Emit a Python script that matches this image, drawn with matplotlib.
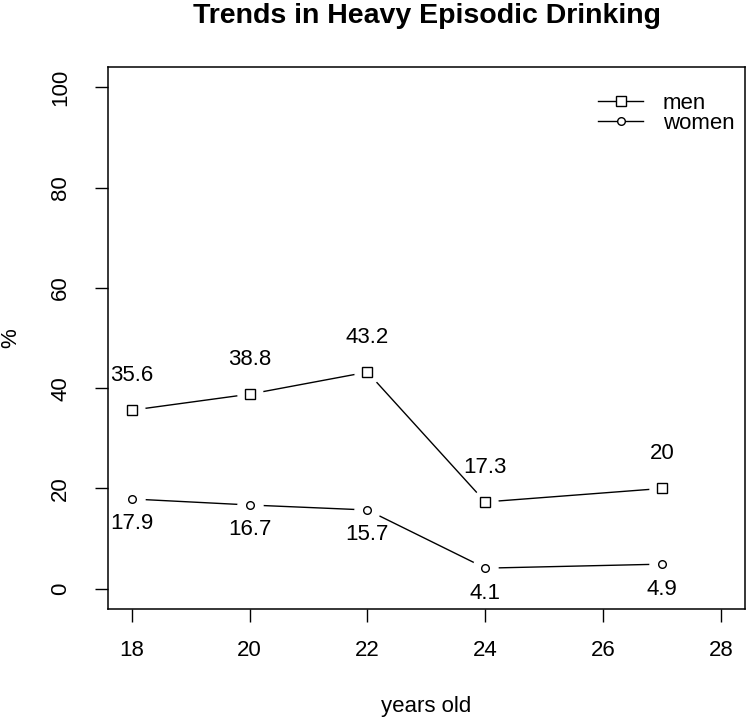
import matplotlib.pyplot as plt

plt.switch_backend("Agg")
plt.rcParams["font.family"] = ["Liberation Sans", "DejaVu Sans"]

# Data
ages = [18, 20, 22, 24, 27]
men = [35.6, 38.8, 43.2, 17.3, 20]
women = [17.9, 16.7, 15.7, 4.1, 4.9]
x_ticks = [18, 20, 22, 24, 26, 28]
y_ticks = [0, 20, 40, 60, 80, 100]

FS = 16

fig = plt.figure(figsize=(7.5, 7.23), dpi=100)
ax = fig.add_axes([0.144, 0.158, 0.849, 0.749])


def draw_series(values, marker, size, label):
    # R type="b": line with gaps around each point
    ax.plot(ages, values, color="black", lw=1.0, zorder=2)
    ax.plot(ages, values, linestyle="none", marker="o", markersize=18,
            markerfacecolor="white", markeredgecolor="white", zorder=3)
    ax.plot(ages, values, linestyle="none", marker=marker, markersize=size,
            markerfacecolor="white", markeredgecolor="black",
            markeredgewidth=1.0, zorder=4)
    # legend proxy
    ax.plot([], [], color="black", lw=1.0, marker=marker, markersize=size,
            markerfacecolor="white", markeredgecolor="black", label=label)


draw_series(men, "s", 7, "men")
draw_series(women, "o", 5.5, "women")

# value labels: men above, women below
for x, y in zip(ages, men):
    ax.annotate(f"{y:g}", (x, y), xytext=(0, 25), textcoords="offset points",
                ha="center", va="center", fontsize=FS, zorder=5,
                annotation_clip=False)
for x, y in zip(ages, women):
    ax.annotate(f"{y:g}", (x, y), xytext=(0, -18), textcoords="offset points",
                ha="center", va="center", fontsize=FS, zorder=5,
                annotation_clip=False)

ax.set_xlim(17.6, 28.4)
ax.set_ylim(-4, 104)
ax.set_xticks(x_ticks)
ax.set_yticks(y_ticks)
ax.tick_params(axis="both", direction="out", length=9.5, width=1.0,
               labelsize=FS, color="black")
ax.tick_params(axis="x", pad=13)
ax.tick_params(axis="y", pad=17)
plt.setp(ax.get_yticklabels(), rotation=90, va="center")

for sp in ax.spines.values():
    sp.set_linewidth(1.1)

ax.set_xlabel("years old", fontsize=FS, va="center")
ax.xaxis.set_label_coords(0.5, -0.18)
ax.set_ylabel("%", fontsize=FS, va="center")
ax.yaxis.set_label_coords(-0.152, 0.5)

fig.text(0.569, 1 - 23 / 723, "Trends in Heavy Episodic Drinking",
         fontsize=20.5, fontweight="bold", ha="center", va="baseline")

ax.legend(loc="upper right", bbox_to_anchor=(0.984, 0.953), frameon=False,
          fontsize=FS, handlelength=2.0, handletextpad=0.9,
          labelspacing=-0.05, borderpad=0, borderaxespad=0)

fig.savefig("out.png", dpi=100)
